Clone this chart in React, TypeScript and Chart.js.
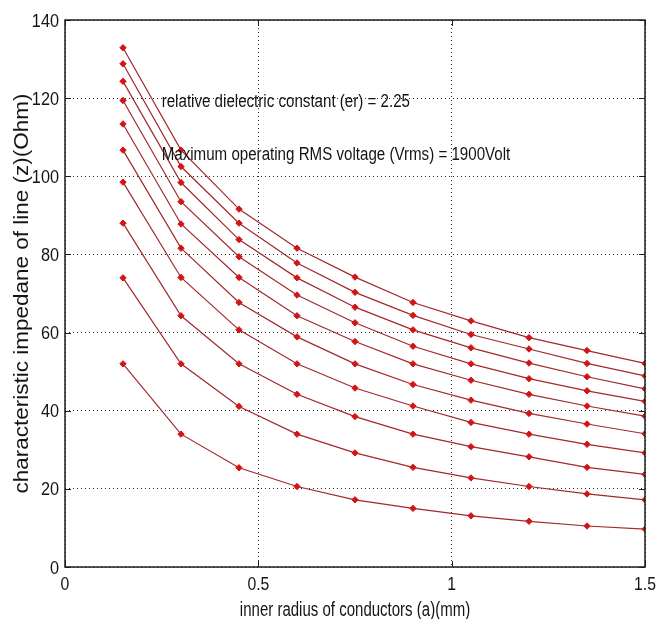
import React, { useEffect, useRef } from "react";
import { Chart, registerables } from "chart.js";

Chart.register(...registerables);

// inner radius a (mm)
const X_VALUES = [0.15, 0.3, 0.45, 0.6, 0.75, 0.9, 1.05, 1.2, 1.35, 1.5];

// characteristic impedance (Ohm), top curve to bottom curve
const SERIES_1 = [132.9, 106.7, 91.6, 81.6, 74.2, 67.7, 63.0, 58.7, 55.4, 52.1];
const SERIES_2 = [128.8, 102.5, 88.0, 77.8, 70.3, 64.4, 59.5, 55.8, 52.1, 48.9];
const SERIES_3 = [124.3, 98.4, 83.8, 74.0, 66.5, 60.7, 56.1, 52.2, 48.7, 45.6];
const SERIES_4 = [119.4, 93.5, 79.4, 69.6, 62.5, 56.5, 52.0, 48.2, 45.1, 42.4];
const SERIES_5 = [113.4, 87.8, 74.1, 64.3, 57.7, 52.0, 47.8, 44.2, 41.2, 38.6];
const SERIES_6 = [106.7, 81.6, 67.7, 58.9, 52.0, 46.7, 42.7, 39.3, 36.6, 34.1];
const SERIES_7 = [98.5, 74.1, 60.7, 52.0, 45.8, 41.2, 37.0, 34.0, 31.4, 29.2];
const SERIES_8 = [88.0, 64.3, 52.0, 44.2, 38.5, 34.0, 30.8, 28.2, 25.5, 23.7];
const SERIES_9 = [74.0, 52.0, 41.1, 34.0, 29.2, 25.5, 22.8, 20.6, 18.7, 17.2];
const SERIES_10 = [52.0, 34.0, 25.4, 20.6, 17.2, 15.0, 13.1, 11.7, 10.5, 9.7];

const ALL_SERIES = [
  SERIES_1, SERIES_2, SERIES_3, SERIES_4, SERIES_5,
  SERIES_6, SERIES_7, SERIES_8, SERIES_9, SERIES_10,
];

const X_TICK_LABELS = ["0", "0.5", "1", "1.5"];
const Y_TICK_LABELS = ["0", "20", "40", "60", "80", "100", "120", "140"];

const X_TITLE = "inner radius of conductors (a)(mm)";
const Y_TITLE = "characteristic impedane of line (z)(Ohm)";
const NOTE_1 = "relative dielectric constant (er) = 2.25";
const NOTE_2 = "Maximum operating RMS voltage (Vrms) = 1900Volt";
const NOTE_X = 0.25;
const NOTE_1_Y = 119.5;
const NOTE_2_Y = 105.8;

const FONT = "'Liberation Sans', Arial, sans-serif";
const TEXT_COLOR = "#141414";

function drawText(
  ctx: CanvasRenderingContext2D,
  text: string,
  x: number,
  y: number,
  size: number,
  sx: number,
  align: CanvasTextAlign,
  baseline: CanvasTextBaseline
) {
  ctx.save();
  ctx.translate(x, y);
  ctx.scale(sx, 1);
  ctx.font = `${size}px ${FONT}`;
  ctx.textAlign = align;
  ctx.textBaseline = baseline;
  ctx.fillStyle = TEXT_COLOR;
  ctx.fillText(text, 0, 0);
  ctx.restore();
}

const framePlugin = {
  id: "matlabFrame",
  afterDraw(chart: any) {
    const { ctx, chartArea: a, scales } = chart;
    const xs = scales.x;
    const ys = scales.y;
    ctx.save();
    // annotations
    drawText(ctx, NOTE_1, xs.getPixelForValue(NOTE_X), ys.getPixelForValue(NOTE_1_Y) + 6.5, 18, 0.84, "left", "alphabetic");
    drawText(ctx, NOTE_2, xs.getPixelForValue(NOTE_X), ys.getPixelForValue(NOTE_2_Y) + 6.5, 18, 0.84, "left", "alphabetic");
    // box
    ctx.strokeStyle = "#1e1e1e";
    ctx.lineWidth = 1.5;
    ctx.setLineDash([]);
    ctx.strokeRect(a.left, a.top, a.right - a.left, a.bottom - a.top);
    // inward tick marks
    ctx.lineWidth = 1;
    const tl = 6;
    xs.ticks.forEach((t: any) => {
      const px = Math.round(xs.getPixelForValue(t.value)) + 0.5;
      ctx.beginPath();
      ctx.moveTo(px, a.bottom);
      ctx.lineTo(px, a.bottom - tl);
      ctx.moveTo(px, a.top);
      ctx.lineTo(px, a.top + tl);
      ctx.stroke();
    });
    ys.ticks.forEach((t: any) => {
      const py = Math.round(ys.getPixelForValue(t.value)) + 0.5;
      ctx.beginPath();
      ctx.moveTo(a.left, py);
      ctx.lineTo(a.left + tl, py);
      ctx.moveTo(a.right, py);
      ctx.lineTo(a.right - tl, py);
      ctx.stroke();
    });
    // tick labels
    xs.ticks.forEach((t: any, i: number) => {
      const label = X_TICK_LABELS[i] ?? String(t.value);
      drawText(ctx, label, xs.getPixelForValue(t.value), a.bottom + 23, 17.5, 0.9, "center", "alphabetic");
    });
    ys.ticks.forEach((t: any, i: number) => {
      const label = Y_TICK_LABELS[i] ?? String(t.value);
      drawText(ctx, label, a.left - 6, ys.getPixelForValue(t.value) + 6.6, 18.5, 0.88, "right", "alphabetic");
    });
    // axis titles
    drawText(ctx, X_TITLE, (a.left + a.right) / 2, 616, 19.5, 0.77, "center", "alphabetic");
    ctx.save();
    ctx.translate(28, (a.top + a.bottom) / 2);
    ctx.rotate(-Math.PI / 2);
    ctx.scale(1, 0.86);
    ctx.font = `22.5px ${FONT}`;
    ctx.textAlign = "center";
    ctx.textBaseline = "alphabetic";
    ctx.fillStyle = TEXT_COLOR;
    ctx.fillText(Y_TITLE, 0, 0);
    ctx.restore();
    ctx.restore();
  },
};

export default function App() {
  const ref = useRef<HTMLCanvasElement | null>(null);

  useEffect(() => {
    document.body.style.margin = "0";
    const canvas = ref.current;
    if (!canvas) return;
    const datasets = ALL_SERIES.map((s, i) => ({
      label: `series ${i + 1}`,
      data: X_VALUES.map((x, j) => ({ x, y: s[j] })),
      borderColor: "#a3282c",
      borderWidth: 1.2,
      backgroundColor: "#d41414",
      pointBackgroundColor: "#d41414",
      pointBorderColor: "#d41414",
      pointStyle: "rectRot",
      pointRadius: 3.2,
      pointBorderWidth: 1,
      tension: 0,
      fill: false,
    }));
    const chart = new Chart(canvas, {
      type: "line",
      data: { datasets },
      plugins: [framePlugin],
      options: {
        animation: false,
        responsive: false,
        maintainAspectRatio: false,
        events: [],
        layout: { padding: { left: 0, right: 11, top: 20, bottom: 0 } },
        plugins: { legend: { display: false }, tooltip: { enabled: false } },
        scales: {
          x: {
            type: "linear",
            min: 0,
            max: 1.5,
            ticks: { stepSize: 0.5, display: false },
            grid: { color: "#2a2a2a", lineWidth: 1, drawTicks: false },
            border: { display: false, dash: [1, 3] },
            title: { display: false, text: X_TITLE },
            afterFit: (s: any) => {
              s.height = 52;
            },
          },
          y: {
            type: "linear",
            min: 0,
            max: 140,
            ticks: { stepSize: 20, display: false },
            grid: { color: "#2a2a2a", lineWidth: 1, drawTicks: false },
            border: { display: false, dash: [1, 3] },
            title: { display: false, text: Y_TITLE },
            afterFit: (s: any) => {
              s.width = 65;
            },
          },
        },
      },
    });
    return () => chart.destroy();
  }, []);

  return (
    <canvas
      ref={ref}
      width={656}
      height={619}
      style={{ display: "block", width: 656, height: 619 }}
    />
  );
}
